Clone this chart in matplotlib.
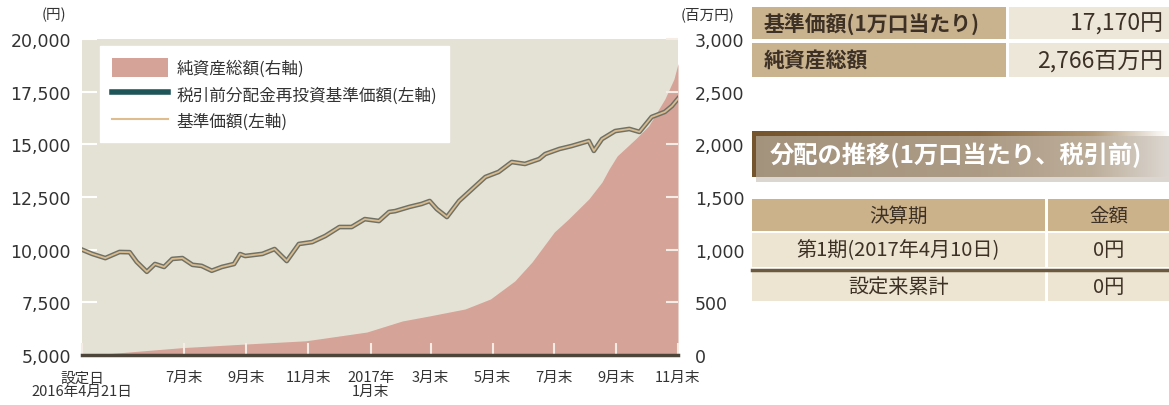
import numpy as np
import pandas as pd
import matplotlib
matplotlib.use("Agg")
import matplotlib.pyplot as plt
from matplotlib.patches import Rectangle, Patch
from matplotlib.lines import Line2D
from matplotlib.colors import LinearSegmentedColormap

plt.rcParams['font.family'] = ['Noto Sans CJK JP', 'DejaVu Sans']

# 基準価額 (円)
nav_dates = ["2016-04-21", "2016-05-01", "2016-05-14", "2016-05-28", "2016-06-07",
             "2016-06-14", "2016-06-24", "2016-07-02", "2016-07-11", "2016-07-19",
             "2016-07-29", "2016-08-08", "2016-08-17", "2016-08-27", "2016-09-06",
             "2016-09-18", "2016-09-24", "2016-09-29", "2016-10-16", "2016-10-28",
             "2016-11-09", "2016-11-21", "2016-12-04", "2016-12-17", "2016-12-31",
             "2017-01-12", "2017-01-25", "2017-02-08", "2017-02-18", "2017-02-24",
             "2017-03-10", "2017-03-22", "2017-03-30", "2017-04-06", "2017-04-16",
             "2017-04-28", "2017-05-11", "2017-05-24", "2017-06-06", "2017-06-19",
             "2017-07-02", "2017-07-16", "2017-07-22", "2017-08-05", "2017-08-17",
             "2017-09-03", "2017-09-08", "2017-09-16", "2017-09-29", "2017-10-13",
             "2017-10-23", "2017-11-04", "2017-11-17", "2017-11-24", "2017-11-30"]
nav_values = [10000, 9800, 9600, 9890, 9880,
              9420, 8950, 9320, 9180, 9560,
              9600, 9280, 9230, 9000, 9180,
              9320, 9790, 9700, 9800, 10030,
              9460, 10270, 10360, 10650, 11075,
              11075, 11450, 11360, 11790, 11830,
              12030, 12170, 12310, 11930, 11550,
              12310, 12880, 13450, 13690, 14160,
              14070, 14300, 14540, 14780, 14920,
              15160, 14690, 15250, 15630, 15730,
              15590, 16300, 16540, 16820, 17170]

# 純資産総額 (百万円)
aum_dates = ["2016-04-21", "2016-05-20", "2016-07-29", "2016-09-29", "2016-11-28",
             "2017-01-27", "2017-03-03", "2017-03-31", "2017-05-04", "2017-05-29",
             "2017-06-22", "2017-07-09", "2017-07-31", "2017-08-14", "2017-09-03",
             "2017-09-16", "2017-09-23", "2017-10-01", "2017-10-19", "2017-11-01",
             "2017-11-17", "2017-11-26", "2017-11-30"]
aum_values = [5, 15, 70, 104, 135,
              218, 323, 373, 437, 532,
              703, 883, 1168, 1291, 1481,
              1642, 1766, 1890, 2050, 2175,
              2430, 2620, 2766]

x_tick_dates = ["2016-04-21", "2016-07-31", "2016-09-30", "2016-11-30", "2017-01-31",
                "2017-03-31", "2017-05-31", "2017-07-31", "2017-09-30", "2017-11-30"]
x_tick_labels = ["設定日\n2016年4月21日", "7月末", "9月末", "11月末", "2017年\n1月末",
                 "3月末", "5月末", "7月末", "9月末", "11月末"]
left_ticks = [5000, 7500, 10000, 12500, 15000, 17500, 20000]
right_ticks = [0, 500, 1000, 1500, 2000, 2500, 3000]

summary_labels = ["基準価額(1万口当たり)", "純資産総額"]
summary_values = ["17,170円", "2,766百万円"]
dist_title = "分配の推移(1万口当たり、税引前)"
dist_header = ["決算期", "金額"]
dist_rows = [["第1期(2017年4月10日)", "0円"], ["設定来累計", "0円"]]

nav_d = pd.to_datetime(nav_dates)
aum_d = pd.to_datetime(aum_dates)

W, H = 1169, 406
fig = plt.figure(figsize=(W / 100, H / 100), dpi=100)
txt = "#333333"

ax = fig.add_axes([82 / W, 1 - 356 / H, (678 - 82) / W, (356 - 40) / H])
ax2 = ax.twinx()
ax.set_zorder(ax2.get_zorder() + 1)
ax.patch.set_visible(False)
ax2.patch.set_visible(True)
ax2.patch.set_facecolor("#e4e2d5")

ax2.fill_between(aum_d, 0, aum_values, color="#d5a397", lw=0)
ax2.set_ylim(0, 3000)
ax2.set_yticks(right_ticks)
ax2.set_yticklabels([f"{v:,}" for v in right_ticks], ha="left", family="DejaVu Sans")

ax.plot(nav_d, nav_values, color="#6f7166", lw=3.4, solid_joinstyle="round")
ax.plot(nav_d, nav_values, color="#d8bb8e", lw=1.3, solid_joinstyle="round")
ax.set_ylim(5000, 20000)
ax.set_yticks(left_ticks)
ax.set_yticklabels([f"{v:,}" for v in left_ticks], family="DejaVu Sans")
ax.set_xlim(pd.Timestamp("2016-04-21"), pd.Timestamp("2017-11-30"))
ax.set_xticks(pd.to_datetime(x_tick_dates))
ax.set_xticklabels(x_tick_labels, linespacing=0.95)

for a in (ax, ax2):
    for s in a.spines.values():
        s.set_visible(False)
ax.spines["bottom"].set_visible(True)
ax.spines["bottom"].set_color("#4d443a")
ax.spines["bottom"].set_linewidth(2.5)

ax.tick_params(axis="y", direction="in", length=11, width=1.5, color="white",
               labelsize=12.5, labelcolor=txt, pad=8)
ax2.tick_params(axis="y", direction="in", length=9, width=1.5, color="#f6ece6",
                labelsize=12.5, labelcolor=txt, pad=12)
ax.tick_params(axis="x", direction="in", length=9, width=1.5, color="#f6ece6",
               labelsize=10.5, labelcolor=txt, pad=11)

handles = [Patch(facecolor="#d5a397", edgecolor="none"),
           Line2D([], [], color="#1d5558", lw=4),
           Line2D([], [], color="#e0bd8f", lw=1.5)]
labels = ["純資産総額(右軸)", "税引前分配金再投資基準価額(左軸)", "基準価額(左軸)"]
leg = ax.legend(handles, labels, loc="upper left", bbox_to_anchor=(0.03, 0.978),
                fontsize=12, frameon=True, fancybox=False, framealpha=1,
                edgecolor="white", handlelength=3.4, handleheight=1.4,
                labelspacing=0.45, borderpad=0.7, handletextpad=0.5, borderaxespad=0)
for t in leg.get_texts():
    t.set_color(txt)

fig.text(54 / W, 1 - 15 / H, "(円)", fontsize=10.5, ha="center", va="center", color=txt)
fig.text(708 / W, 1 - 15 / H, "(百万円)", fontsize=10.5, ha="center", va="center", color=txt)

# right-hand panel
tx = fig.add_axes([0, 0, 1, 1])
tx.axis("off")

dark = "#3d3126"
rows_y = [(8, 40), (44, 78)]
for (y0, y1), lab, val in zip(rows_y, summary_labels, summary_values):
    tx.add_patch(Rectangle((752, y0), 1006 - 752, y1 - y0, color="#c9b28e", lw=0))
    tx.add_patch(Rectangle((1009, y0), W - 1009, y1 - y0, color="#ede7da", lw=0))
    tx.text(764, (y0 + y1) / 2, lab, fontsize=15, ha="left", va="center",
            color=dark, fontweight="bold")
    tx.text(1163, (y0 + y1) / 2, val, fontsize=16.5, ha="right", va="center", color=dark)

cmap = LinearSegmentedColormap.from_list(
    "band", [(0, "#74552d"), (0.55, "#8a6a42"), (0.82, "#b39a78"), (1, "#ffffff")])
grad = np.linspace(0, 1, 256).reshape(1, -1)
tx.add_patch(Rectangle((756, 137), W - 756, 46, color="#c4bcb2", lw=0, alpha=0.6))
tx.imshow(grad, cmap=cmap, extent=(752, W, 178, 133), aspect="auto")
tx.text(770, 155, dist_title, fontsize=17.5, ha="left", va="center",
        color="white", fontweight="bold")

col_x = [(752, 1045), (1048, W)]
for (x0, x1), h in zip(col_x, dist_header):
    tx.add_patch(Rectangle((x0, 200), x1 - x0, 32, color="#ccb28b", lw=0))
    tx.text((x0 + x1) / 2, 216, h, fontsize=14, ha="center", va="center", color=dark)
for (y0, y1), row in zip([(234, 268), (273, 302)], dist_rows):
    for (x0, x1), cell in zip(col_x, row):
        tx.add_patch(Rectangle((x0, y0), x1 - x0, y1 - y0, color="#ede4d1", lw=0))
        tx.text((x0 + x1) / 2, (y0 + y1) / 2, cell, fontsize=14.5, ha="center",
                va="center", color=dark)
tx.plot([752, W], [270.5, 270.5], color="#6b5a3f", lw=2.5)
tx.set_xlim(0, W)
tx.set_ylim(H, 0)

fig.savefig("out.png", dpi=100, facecolor="white")
